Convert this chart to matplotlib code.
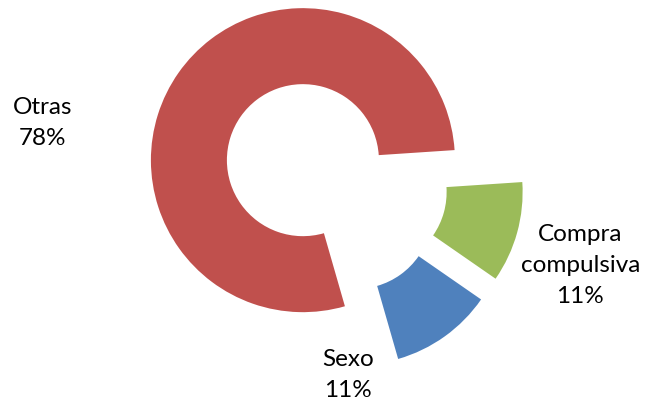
import matplotlib
matplotlib.use("Agg")
import matplotlib.pyplot as plt

# data (clockwise from the top-right gap)
categories = ["Compra\ncompulsiva", "Sexo", "Otras"]
values = [10.7, 10.9, 78.4]
colors = ["#9BBB59", "#4F81BD", "#C0504D"]

# where the data labels sit (data units, radius = 1)
label_pos = [(1.62, -0.55), (0.09, -1.27), (-1.92, 0.39)]

plt.rcParams['font.family'] = ['Lato', 'DejaVu Sans']

fig = plt.figure(figsize=(6.45, 4.05), dpi=100)
ax = fig.add_axes([0, 0, 1, 1])

total = sum(values)
ax.pie(values, colors=colors, startangle=3.8, counterclock=False,
       explode=[0.25] * len(values), radius=1.0,
       wedgeprops=dict(width=0.5, linewidth=0))

for name, v, (x, y) in zip(categories, values, label_pos):
    ax.text(x, y, f"{name}\n{round(100 * v / total):.0f}%", ha="center",
            va="center", fontsize=17.5, color="black", linespacing=1.6)

ax.set_xlim(-334 / 152, (645 - 334) / 152)
ax.set_ylim(-(405 - 182) / 152, 182 / 152)
ax.set_aspect("auto")
ax.axis("off")

fig.savefig("out.png", dpi=100)
